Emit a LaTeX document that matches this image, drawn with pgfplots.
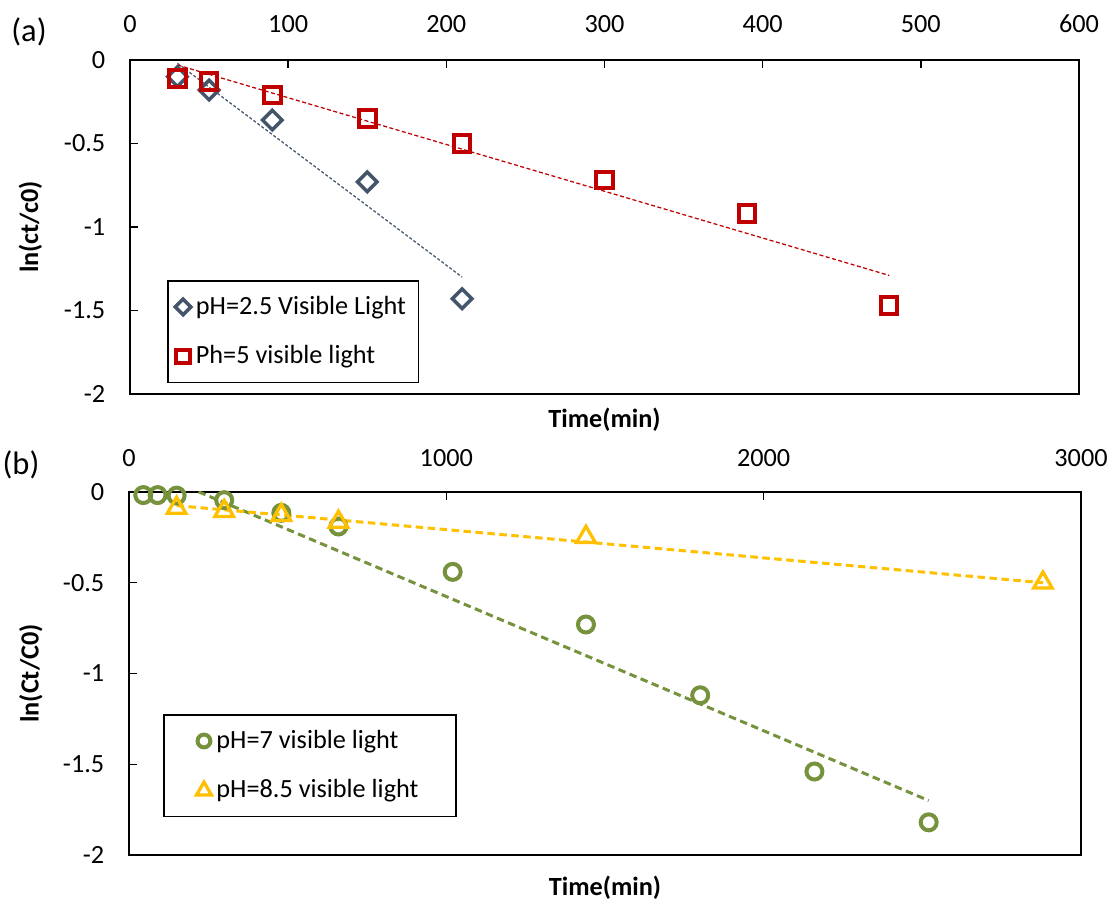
\documentclass[border=0pt]{standalone}
\usepackage{fontspec}
\setmainfont{Carlito}
\usepackage{pgfplots}
\pgfplotsset{compat=1.18}
\definecolor{cslate}{RGB}{68,84,106}
\definecolor{cred}{RGB}{192,0,0}
\definecolor{cgreen}{RGB}{118,146,60}
\definecolor{cyellow}{RGB}{255,192,0}
\begin{document}
\fontsize{10.5}{12.6}\selectfont
\begin{tikzpicture}
\useasboundingbox (0,0) rectangle (444.4pt,-360.4pt);
\pgfplotsset{
  myax/.style={
    scale only axis,
    anchor=north west,
    tick align=inside,
    major tick length=3.2pt,
    xtick pos=right, xticklabel pos=right,
    ytick pos=left,
    axis line style={line width=0.8pt},
    every tick/.style={black,line width=0.6pt},
    /pgf/number format/assume math mode=true,
    /pgf/number format/1000 sep={},
    tick label style={font=\fontsize{10.5}{12.6}\selectfont},
    label style={font=\bfseries\fontsize{10.5}{12.6}\selectfont},
    ymin=-2, ymax=0,
    ytick={0,-0.5,-1,-1.5,-2},
    yticklabel style={xshift=-6.2pt},
    legend style={draw=black, line width=0.6pt, fill=white, anchor=north west,
      font=\fontsize{10.5}{12.6}\selectfont, cells={anchor=west},
      row sep=7pt},
    legend image code/.code={\draw[#1] plot coordinates {(0pt,0pt)};},
    legend image post style={every mark/.append style={scale=0.8}},
  }
}
\begin{axis}[myax, at={(52pt,-24pt)}, width=379.6pt, height=133.6pt,
  xmin=0, xmax=600, xtick={0,100,...,600},
  xticklabel style={yshift=7.3pt},
  ylabel={ln(ct/c0)}, xlabel={Time(min)},
  ylabel style={at={(axis description cs:-0.105,0.5)}, anchor=center},
  xlabel style={at={(axis description cs:0.5,-0.078)}, anchor=center},
  legend style={at={(axis description cs:0.039,0.341)}, inner xsep=3pt, inner ysep=4pt,
    /tikz/every even column/.style={column sep=1pt}},
]
\addplot[forget plot, cslate, line width=0.5pt, dash pattern=on 1.2pt off 0.8pt] coordinates {(30,-0.02) (210,-1.30)};
\addplot[forget plot, cred, line width=0.5pt, dash pattern=on 1.6pt off 1pt] coordinates {(30,-0.03) (480,-1.29)};
\addplot[only marks, cslate, mark=square, mark size=2.76pt, mark options={rotate=45}, line width=1.4pt]
  coordinates {(30,-0.10) (50,-0.18) (90,-0.36) (150,-0.73) (210,-1.43)};
\addlegendentry{pH=2.5 Visible Light}
\addplot[only marks, cred, mark=square, mark size=3.3pt, line width=1.6pt]
  coordinates {(30,-0.11) (50,-0.13) (90,-0.21) (150,-0.35) (210,-0.50) (300,-0.72) (390,-0.92) (480,-1.47)};
\addlegendentry{Ph=5 visible light}
\end{axis}
\begin{axis}[myax, at={(51.6pt,-196.8pt)}, width=380.8pt, height=145.2pt,
  xmin=0, xmax=3000, xtick={0,1000,2000,3000},
  xticklabel style={yshift=6.5pt},
  ylabel={ln(Ct/C0)}, xlabel={Time(min)},
  ylabel style={at={(axis description cs:-0.103,0.5)}, anchor=center},
  xlabel style={at={(axis description cs:0.5,-0.091)}, anchor=center},
  legend style={at={(axis description cs:0.036,0.388)}, inner xsep=13pt, inner ysep=4pt,
    /tikz/every even column/.style={column sep=1pt}},
]
\addplot[forget plot, cgreen, line width=1.2pt, dash pattern=on 3pt off 1.8pt] coordinates {(45,0.13) (2520,-1.70)};
\addplot[forget plot, cyellow, line width=1.2pt, dash pattern=on 3pt off 1.8pt] coordinates {(150,-0.075) (2880,-0.50)};
\addplot[only marks, cgreen, mark=o, mark size=3.2pt, line width=1.6pt]
  coordinates {(45,-0.017) (90,-0.017) (150,-0.02) (300,-0.045) (480,-0.115) (660,-0.19) (1020,-0.44) (1440,-0.73) (1800,-1.12) (2160,-1.54) (2520,-1.82)};
\addlegendentry{pH=7 visible light}
\addplot[only marks, cyellow, mark=triangle, mark size=4.3pt, line width=1.3pt]
  coordinates {(150,-0.088) (300,-0.105) (480,-0.127) (660,-0.165) (1440,-0.248) (2880,-0.50)};
\addlegendentry{pH=8.5 visible light}
\end{axis}
\node[font=\fontsize{13}{15}\selectfont] at (11.6pt,-12.8pt) {(a)};
\node[font=\fontsize{13}{15}\selectfont] at (8.4pt,-186pt) {(b)};
\end{tikzpicture}
\end{document}
